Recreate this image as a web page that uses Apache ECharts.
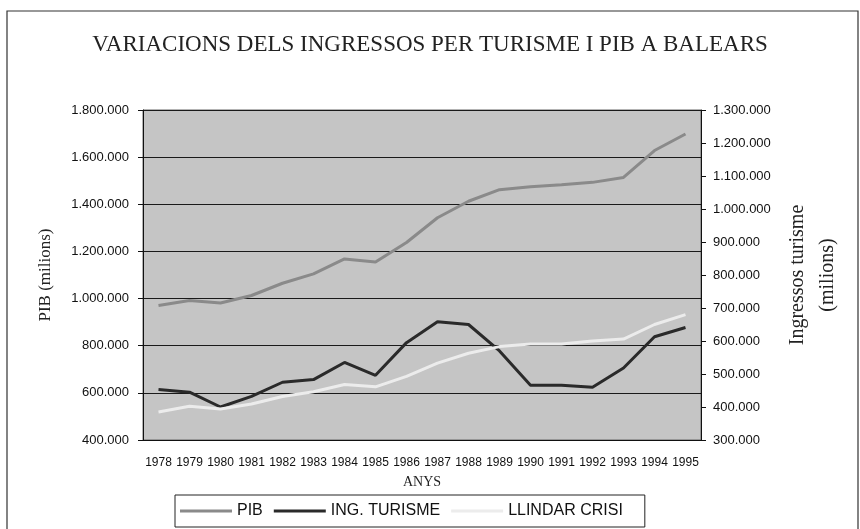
<!DOCTYPE html>
<html>
<head>
<meta charset="utf-8">
<script src="https://cdn.jsdelivr.net/npm/echarts@6/dist/echarts.min.js"></script>
<style>
  html, body { margin: 0; padding: 0; background: #fff; }
  #chart { width: 860px; height: 529px; }
</style>
</head>
<body>
<div id="chart"></div>
<script>
const years = ['1978', '1979', '1980', '1981', '1982', '1983', '1984', '1985', '1986',
  '1987', '1988', '1989', '1990', '1991', '1992', '1993', '1994', '1995'];
// PIB (milions), eix esquerre
const pib = [971000, 992000, 981000, 1013000, 1065000, 1105000, 1168000, 1155000, 1238000,
  1343000, 1413000, 1462000, 1474000, 1483000, 1493000, 1514000, 1628000, 1698000];
// ingressos turisme (milions), eix dret
const ingTurisme = [453000, 445000, 400000, 432000, 475000, 483000, 535000, 496000, 595000,
  658000, 650000, 570000, 466000, 466000, 460000, 518000, 613000, 641000];
const llindarCrisi = [385000, 402000, 394000, 409000, 432000, 446000, 468000, 461000, 493000,
  533000, 563000, 583000, 591000, 591000, 600000, 606000, 650000, 680000];

function punts(v) {
  return String(v).replace(/\B(?=(\d{3})+(?!\d))/g, '.');
}

const chart = echarts.init(document.getElementById('chart'), null, { renderer: 'canvas' });

const serif = 'Liberation Serif';
const sans = 'Liberation Sans';

var option = {
  backgroundColor: '#ffffff',
  animation: false,
  title: {
    text: 'VARIACIONS DELS INGRESSOS PER TURISME I PIB A BALEARS',
    left: 'center',
    top: 33,
    padding: 0,
    textStyle: { fontFamily: serif, fontSize: 23, fontWeight: 'normal', color: '#222' }
  },
  graphic: [{
    type: 'rect',
    shape: { x: 7, y: 11, width: 851, height: 540 },
    style: { fill: null, stroke: '#333', lineWidth: 1.2 },
    silent: true
  }],
  grid: {
    left: 143,
    right: 159,
    top: 110,
    bottom: 89,
    show: true,
    backgroundColor: '#c5c5c5',
    borderColor: '#666',
    borderWidth: 1
  },
  legend: {
    left: 175,
    top: 495,
    padding: [8, 22, 8, 5],
    itemGap: 11,
    itemWidth: 52,
    itemHeight: 3,
    icon: 'rect',
    lineStyle: { width: 3 },
    borderColor: '#222',
    borderWidth: 1,
    textStyle: { fontFamily: sans, fontSize: 16, color: '#111' },
    data: ['PIB', 'ING. TURISME', 'LLINDAR CRISI']
  },
  xAxis: {
    type: 'category',
    data: years,
    boundaryGap: true,
    name: 'ANYS',
    nameLocation: 'middle',
    nameGap: 35,
    nameTextStyle: { fontFamily: serif, fontSize: 14, color: '#222' },
    axisLine: { lineStyle: { color: '#111', width: 1 } },
    axisTick: { length: 5, lineStyle: { color: '#111' } },
    axisLabel: { interval: 0, margin: 17, fontFamily: sans, fontSize: 12, color: '#111' }
  },
  yAxis: [{
    type: 'value',
    min: 400000,
    max: 1800000,
    interval: 200000,
    name: 'PIB (milions)',
    nameLocation: 'middle',
    nameGap: 89,
    nameTextStyle: { fontFamily: serif, fontSize: 17, color: '#222' },
    axisLine: { show: true, lineStyle: { color: '#111', width: 1 } },
    axisTick: { show: true, length: 5, lineStyle: { color: '#111' } },
    axisLabel: { margin: 14, fontFamily: sans, fontSize: 13, color: '#111', formatter: punts },
    splitLine: { show: true, lineStyle: { color: '#1a1a1a', width: 1 } }
  }, {
    type: 'value',
    position: 'right',
    min: 300000,
    max: 1300000,
    interval: 100000,
    name: 'Ingressos turisme\n(milions)',
    nameLocation: 'middle',
    nameGap: 82,
    nameTextStyle: { fontFamily: serif, fontSize: 20, lineHeight: 30, color: '#222', align: 'center' },
    axisLine: { show: true, lineStyle: { color: '#111', width: 1 } },
    axisTick: { show: true, length: 5, lineStyle: { color: '#111' } },
    axisLabel: { margin: 12, fontFamily: sans, fontSize: 13, color: '#111', formatter: punts },
    splitLine: { show: false }
  }],
  series: [{
    name: 'PIB',
    type: 'line',
    yAxisIndex: 0,
    data: pib,
    symbol: 'none',
    lineStyle: { color: '#8a8a8a', width: 3 },
    itemStyle: { color: '#8a8a8a' }
  }, {
    name: 'ING. TURISME',
    type: 'line',
    yAxisIndex: 1,
    data: ingTurisme,
    symbol: 'none',
    lineStyle: { color: '#2a2a2a', width: 3 },
    itemStyle: { color: '#2a2a2a' }
  }, {
    name: 'LLINDAR CRISI',
    type: 'line',
    yAxisIndex: 1,
    data: llindarCrisi,
    symbol: 'none',
    lineStyle: { color: '#ececec', width: 3 },
    itemStyle: { color: '#ececec' }
  }]
};

chart.setOption(option);
</script>
</body>
</html>
